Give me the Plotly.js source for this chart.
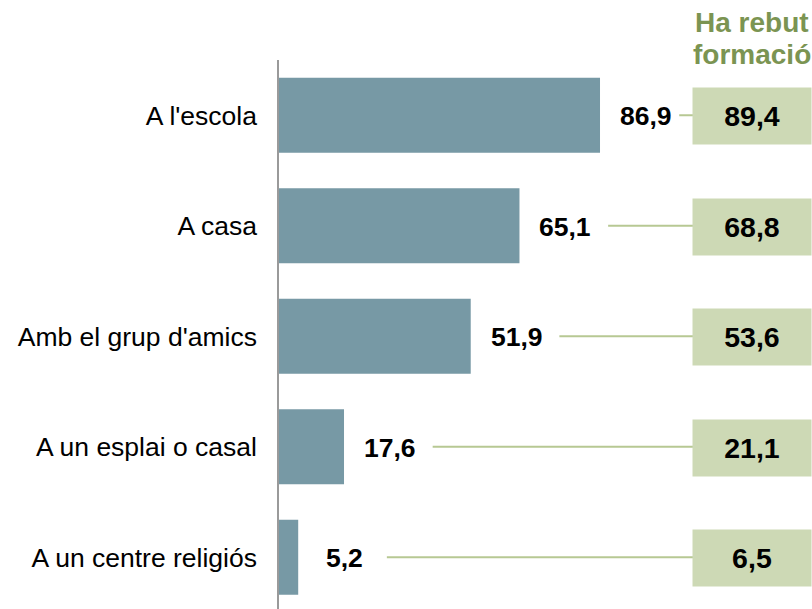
<!DOCTYPE html>
<html>
<head>
<meta charset="utf-8">
<script src="https://cdn.plot.ly/plotly-3.0.1.min.js"></script>
<style>html,body{margin:0;padding:0;background:#fff;overflow:hidden;}</style>
</head>
<body>
<div id="chart" style="width:812px;height:609px;"></div>
<script>
var categories = ["A l'escola", "A casa", "Amb el grup d'amics", "A un esplai o casal", "A un centre religiós"];
var totalValues = [86.9, 65.1, 51.9, 17.6, 5.2];
var trainedValues = [89.4, 68.8, 53.6, 21.1, 6.5];
var headerLines = ["Ha rebut", "formació"];

function fmt(v) { return v.toFixed(1).replace('.', ','); }

var barColor = '#7799A5';
var boxColor = '#CDD9B5';
var lineColor = '#B7C893';
var headerColor = '#7B9452';
var fontFamily = 'Liberation Sans, Arial, sans-serif';

var plotLeft = 279, plotWidth = 533, plotTop = 60, plotHeight = 549;
var pxPerUnit = 3.694;
var xMax = plotWidth / pxPerUnit;
var boxLeftPx = 694, boxWidth = 116, boxHeight = 54;
var boxCenterPaper = (boxLeftPx + boxWidth / 2 - plotLeft) / plotWidth;
var boxLeftData = (boxLeftPx - plotLeft) / pxPerUnit;

var trace = {
  type: 'bar',
  orientation: 'h',
  y: categories,
  x: totalValues,
  marker: {color: barColor},
  width: 0.68,
  hoverinfo: 'none'
};

var annotations = [];
var shapes = [];
categories.forEach(function (c, i) {
  annotations.push({
    x: totalValues[i], y: c, xref: 'x', yref: 'y',
    text: '<b>' + fmt(totalValues[i]) + '</b>',
    showarrow: false, xanchor: 'center', xshift: 46, yshift: -1,
    font: {family: fontFamily, size: 26.5, color: '#000'}
  });
  annotations.push({
    x: boxCenterPaper, y: c, xref: 'paper', yref: 'y',
    text: '<b>' + fmt(trainedValues[i]) + '</b>',
    showarrow: false, xanchor: 'center', yanchor: 'middle',
    width: boxWidth, height: boxHeight, bgcolor: boxColor,
    yshift: -1,
    font: {family: fontFamily, size: 28.5, color: '#000'}
  });
  shapes.push({
    type: 'line', xref: 'x', yref: 'y',
    x0: Math.min(totalValues[i] + 24, boxLeftData - 4), x1: boxLeftData,
    y0: c, y1: c,
    line: {color: lineColor, width: 2}
  });
});
annotations.push({
  x: boxCenterPaper, y: 1 + (plotTop - 22) / plotHeight, xref: 'paper', yref: 'paper',
  xanchor: 'center', yanchor: 'middle',
  text: '<b>' + headerLines[0] + '</b>', showarrow: false,
  font: {family: fontFamily, size: 28, color: headerColor}
});
annotations.push({
  x: boxCenterPaper, y: 1 + (plotTop - 55) / plotHeight, xref: 'paper', yref: 'paper',
  xanchor: 'center', yanchor: 'middle',
  text: '<b>' + headerLines[1] + '</b>', showarrow: false,
  font: {family: fontFamily, size: 28, color: headerColor}
});

var layout = {
  width: 812, height: 609,
  margin: {l: plotLeft, r: 0, t: plotTop, b: 0, pad: 0},
  paper_bgcolor: '#fff', plot_bgcolor: '#fff',
  showlegend: false,
  xaxis: {range: [0, xMax], visible: false, fixedrange: true},
  yaxis: {
    type: 'category', autorange: false, range: [4.468, -0.5],
    showline: true, linecolor: '#9A9A9A', linewidth: 2,
    showgrid: false, zeroline: false, ticks: '', ticklen: 0,
    ticksuffix: '  ',
    tickfont: {family: fontFamily, size: 26.5, color: '#000'}
  },
  annotations: annotations,
  shapes: shapes
};

Plotly.newPlot('chart', [trace], layout, {displayModeBar: false, staticPlot: true});
</script>
</body>
</html>
